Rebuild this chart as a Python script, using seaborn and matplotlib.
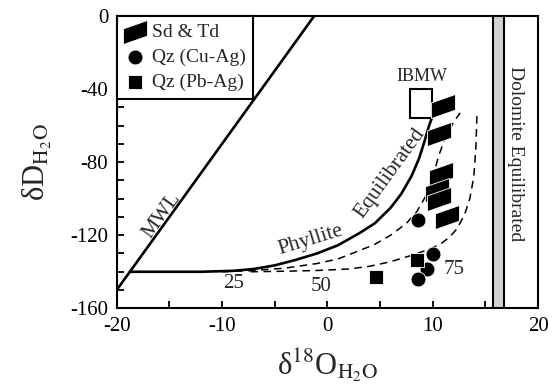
import matplotlib
matplotlib.use("Agg")
import matplotlib.pyplot as plt
import seaborn as sns
from matplotlib.path import Path
from matplotlib.patches import Rectangle
from matplotlib.ticker import MultipleLocator

# meteoric water line and the hand-drawn curves
MWL_X = [-20, -1.25]
MWL_Y = [-150, 0]

PHYLLITE_X = [-18.75, -12, -9, -7, -5, -3, -1, 1, 3, 4.5, 6, 7, 8, 8.7, 9.2, 9.6, 9.9]
PHYLLITE_Y = [-140, -140, -139.5, -138.5, -136.5, -133.5, -130, -125.5, -119,
              -113.5, -105, -97.5, -87.5, -78, -69, -61, -56]

CURVE_A_X = [-10, -7, -4, -1, 1, 3, 4.5, 6, 7.5, 8.5, 9.3, 10, 10.6, 11.3, 12, 12.6]
CURVE_A_Y = [-140, -139.3, -138, -135.5, -133, -128.5, -125, -120, -113.5, -107,
             -99, -88, -76, -65, -58, -53]

CURVE_B_X = [-7.3, -4, -1, 2, 4, 6, 8, 9.5, 10.7, 11.6, 12.3, 13, 13.5, 13.9, 14.1, 14.2]
CURVE_B_Y = [-140, -139.7, -139.3, -138.5, -137, -134.5, -131, -128, -125, -121,
             -116.5, -109, -100.5, -88, -72, -54]

# samples
SD_X = [10.97, 10.63, 10.78, 10.45, 10.55, 11.37]
SD_Y = [-49.2, -64.7, -86.5, -95.0, -100.0, -109.8]

CU_X = [8.64, 10.0, 9.44, 8.64]
CU_Y = [-111.7, -130.4, -138.5, -144.1]

PB_X = [8.55, 4.6]
PB_Y = [-133.6, -143.0]

IBMW_X = [7.85, 9.95]
IBMW_Y = [-55.7, -40.0]

DOLOMITE_X = [15.76, 16.81]

SD_MARKER = Path([(-1, -1), (1, -0.3), (1, 1), (-1, 0.3), (-1, -1)],
                 [Path.MOVETO, Path.LINETO, Path.LINETO, Path.LINETO, Path.CLOSEPOLY])

sns.set_style("ticks")
plt.rcParams["font.family"] = ["Liberation Serif", "DejaVu Serif"]
plt.rcParams["mathtext.fontset"] = "stix"
plt.rcParams["axes.unicode_minus"] = False

fig = plt.figure(figsize=(5.53, 3.88), dpi=100)
ax = fig.add_axes([0.211, 0.2054, 0.762, 0.7534])

# dolomite band
ax.axvspan(DOLOMITE_X[0], DOLOMITE_X[1], facecolor="#d2d2d2", edgecolor="none", zorder=1)
for xv in DOLOMITE_X:
    ax.axvline(xv, color="black", lw=1.5, zorder=2)

sns.lineplot(x=MWL_X, y=MWL_Y, sort=False, estimator=None, color="black", lw=1.9, ax=ax)
sns.lineplot(x=PHYLLITE_X, y=PHYLLITE_Y, sort=False, estimator=None, color="black", lw=1.9, ax=ax)
sns.lineplot(x=CURVE_A_X, y=CURVE_A_Y, sort=False, estimator=None, color="black",
             lw=1.1, linestyle=(0, (5, 3.5)), ax=ax)
sns.lineplot(x=CURVE_B_X, y=CURVE_B_Y, sort=False, estimator=None, color="black",
             lw=1.1, linestyle=(0, (5, 3.5)), ax=ax)

ax.add_patch(Rectangle((IBMW_X[0], IBMW_Y[0]), IBMW_X[1] - IBMW_X[0], IBMW_Y[1] - IBMW_Y[0],
                       facecolor="white", edgecolor="black", lw=1.5, zorder=3))

sns.scatterplot(x=SD_X, y=SD_Y, marker=SD_MARKER, s=300, color="black",
                edgecolor="white", linewidth=0.6, label="Sd & Td", ax=ax, zorder=4)
sns.scatterplot(x=CU_X, y=CU_Y, marker="o", s=115, color="black",
                edgecolor="white", linewidth=0.6, label="Qz (Cu-Ag)", ax=ax, zorder=4)
sns.scatterplot(x=PB_X, y=PB_Y, marker="s", s=105, color="black",
                edgecolor="white", linewidth=0.6, label="Qz (Pb-Ag)", ax=ax, zorder=4)

leg = ax.legend(loc="upper left", bbox_to_anchor=(0, 1), borderaxespad=0, frameon=True,
                fancybox=False, edgecolor="black", framealpha=1, fontsize=14,
                handlelength=1.1, handletextpad=0.3, borderpad=0.4, labelspacing=0.38)
leg.get_frame().set_linewidth(1.5)
leg.set_zorder(5)

# annotations
ax.text(-15.7, -109.4, "MWL", rotation=54, ha="center", va="center", fontsize=15)
ax.text(-1.6, -122.6, "Phyllite", rotation=17, ha="center", va="center", fontsize=15.5)
ax.text(5.9, -86, "Equilibrated", rotation=54, ha="center", va="center", fontsize=15.5)
ax.text(9.0, -33.3, "IBMW", ha="center", va="center", fontsize=13)
ax.text(-8.93, -146.3, "25", ha="center", va="center", fontsize=15)
ax.text(-0.62, -148.2, "50", ha="center", va="center", fontsize=15)
ax.text(12.05, -139.0, "75", ha="center", va="center", fontsize=15)
ax.text(17.84, -75.2, "Dolomite Equilibrated", rotation=270, ha="center", va="center",
        fontsize=14)

ax.set_xlim(-20, 20)
ax.set_ylim(-160, 0)
ax.xaxis.set_major_locator(MultipleLocator(10))
ax.xaxis.set_minor_locator(MultipleLocator(5))
ax.yaxis.set_major_locator(MultipleLocator(40))
ax.yaxis.set_minor_locator(MultipleLocator(10))
ax.tick_params(which="both", direction="in", length=5, width=1.3, top=False, right=False,
               labelsize=15, pad=6, colors="black")
for sp in ax.spines.values():
    sp.set_linewidth(1.5)
    sp.set_color("black")

ax.set_xlabel("δ$^{18}$O$_{\\mathrm{H_2O}}$", fontsize=22, labelpad=8)
ax.set_ylabel("δD$_{\\mathrm{H_2O}}$", fontsize=22, labelpad=12)

fig.savefig("out.png", dpi=100)
